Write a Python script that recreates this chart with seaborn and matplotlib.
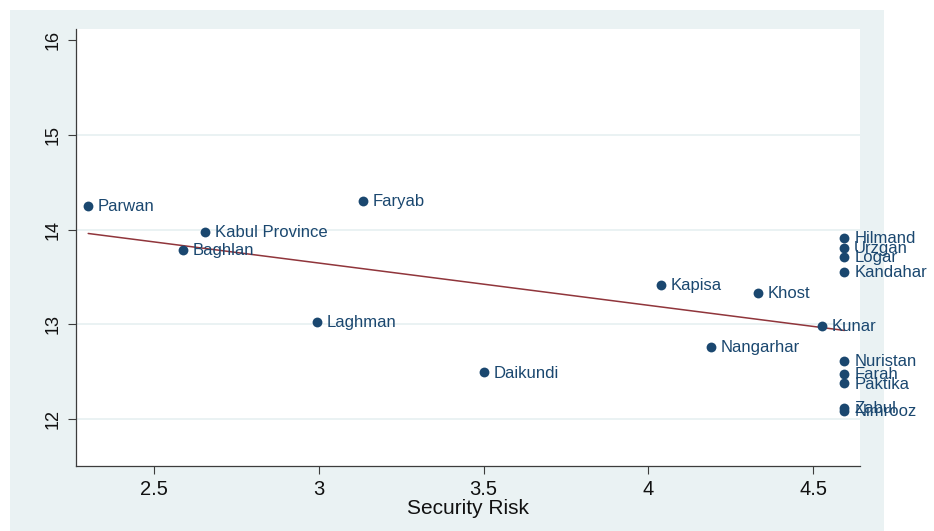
import matplotlib
matplotlib.use("Agg")
import matplotlib.pyplot as plt
from matplotlib.patches import Rectangle
import pandas as pd
import seaborn as sns

# Province-level values
provinces = ["Parwan", "Kabul Province", "Baghlan", "Faryab", "Laghman", "Daikundi",
             "Kapisa", "Khost", "Kunar", "Nangarhar", "Hilmand", "Urzgan", "Logar",
             "Kandahar", "Nuristan", "Farah", "Paktika", "Zabul", "Nimrooz"]
security_risk = [2.302, 2.656, 2.590, 3.136, 2.995, 3.502,
                 4.038, 4.333, 4.527, 4.188, 4.594, 4.594, 4.594,
                 4.594, 4.594, 4.594, 4.594, 4.594, 4.594]
score = [14.249, 13.975, 13.785, 14.299, 13.024, 12.489,
         13.415, 13.327, 12.982, 12.760, 13.914, 13.809, 13.707,
         13.555, 12.612, 12.475, 12.373, 12.116, 12.084]

x_ticks = [2.5, 3, 3.5, 4, 4.5]
x_tick_labels = ["2.5", "3", "3.5", "4", "4.5"]
y_ticks = [12, 13, 14, 15, 16]
y_tick_labels = ["12", "13", "14", "15", "16"]

df = pd.DataFrame({"province": provinces, "risk": security_risk, "score": score})

sns.set_theme(style="ticks")
plt.rcParams["font.family"] = ["Liberation Sans", "DejaVu Sans"]

NAVY = "#1a476f"
MAROON = "#90353b"
BG = "#eaf2f3"
AXIS = "#3c3c3c"

W, H = 934, 531
fig = plt.figure(figsize=(W / 100, H / 100), dpi=100)
fig.patch.set_facecolor("white")
fig.patches.append(Rectangle((10 / W, 0), 874 / W, 521 / H, transform=fig.transFigure,
                             facecolor=BG, edgecolor="none", zorder=-10))

ax = fig.add_axes([76 / W, 1 - 466 / H, (860 - 76) / W, (466 - 29) / H])
ax.set_facecolor("white")

# Fitted line over the data range
sns.regplot(data=df, x="risk", y="score", scatter=False, ci=None, ax=ax,
            line_kws=dict(color=MAROON, lw=1.1, zorder=2))
sns.scatterplot(data=df, x="risk", y="score", ax=ax, color=NAVY, s=50,
                linewidth=0, zorder=3, legend=False)

for name, xv, yv in zip(df["province"], df["risk"], df["score"]):
    ax.annotate(name, (xv, yv), xytext=(7.0, -0.5), textcoords="offset points",
                ha="left", va="center", fontsize=12, color=NAVY,
                annotation_clip=False, zorder=4)

ax.set_xlim(2.265, 4.641)
ax.set_ylim(11.50, 16.12)
ax.set_xticks(x_ticks, x_tick_labels)
ax.set_yticks(y_ticks, y_tick_labels)
for lbl in ax.get_yticklabels():
    lbl.set_rotation(90)
    lbl.set_va("center")
    lbl.set_fontsize(13)
for lbl in ax.get_xticklabels():
    lbl.set_fontsize(14.5)

ax.yaxis.grid(True, color=BG, lw=1.4)
ax.get_ygridlines()[-1].set_visible(False)
ax.set_axisbelow(True)

ax.set_xlabel("Security Risk", fontsize=15, labelpad=0, color="#111111")
ax.set_ylabel("")
ax.tick_params(axis="both", direction="out", length=6, width=0.8, color=AXIS,
               pad=4, labelcolor="#111111")

for side in ("top", "right"):
    ax.spines[side].set_visible(False)
for side in ("left", "bottom"):
    ax.spines[side].set_color(AXIS)
    ax.spines[side].set_linewidth(0.9)

fig.savefig("out.png", dpi=100)
